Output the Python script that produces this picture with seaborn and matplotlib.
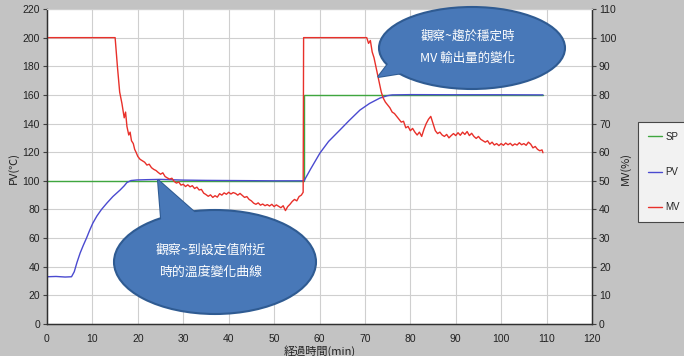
import numpy as np
import pandas as pd
import matplotlib
matplotlib.use("Agg")
import matplotlib.pyplot as plt
import seaborn as sns
from matplotlib.patches import Ellipse, Polygon
from matplotlib.lines import Line2D

# ---------------- data ----------------
sp_time = [0, 56.5, 56.5, 109.2]
sp_value = [100, 100, 160, 160]

pv_time = [0, 2, 4, 5.4, 6.0, 6.6, 7.3, 8.0, 8.7, 9.4, 10.1, 11.0, 12.0, 13.2, 14.5, 16.1, 17.0,
           17.6, 18.5, 19.8, 22, 25, 28, 30, 35, 40, 45, 50, 55, 56.6, 58.0, 60.1, 62.0, 64.5,
           66.5, 68.9, 71.0, 73.3, 75.0, 76.0, 80, 90, 100, 109.2]
pv_value = [33, 33.2, 32.8, 33, 36.5, 43, 49.6, 55, 60, 65.5, 70.5, 75.5, 80, 84.5, 89, 93.6, 96.5,
            98.8, 100.2, 100.6, 100.8, 101, 100.7, 100.5, 100.3, 100.2, 100.1, 100, 100, 100, 108, 119.4, 127.5, 135.5,
            142, 149.4, 154, 157.8, 159.5, 160, 160.2, 160.1, 160.1, 160]

mv_time = [0, 15.0, 15.5, 16.0, 16.5, 17.0, 17.3, 17.6, 18.0, 18.3, 18.6, 19.0, 19.3, 19.6, 20.0,
           20.5, 21, 21.5, 22, 22.5, 23, 23.5, 24, 24.5, 25, 25.5, 26, 26.5, 27, 27.5, 28, 28.5,
           29, 29.5, 30, 30.5, 31, 31.5, 32, 32.5, 33, 33.5, 34, 34.5, 35, 35.5, 36, 36.5, 37,
           37.5, 38, 38.5, 39, 39.5, 40, 40.5, 41, 41.5, 42, 42.5, 43, 43.5, 44, 44.5, 45, 45.5,
           46, 46.5, 47, 47.5, 48, 48.5, 49, 49.5, 50, 50.5, 51, 51.5, 52, 52.5, 53, 53.5, 54,
           54.5, 55, 55.5, 56, 56.4, 56.5, 70.4, 70.8, 71.2, 71.6, 72, 72.4, 72.8, 73.2, 73.6, 74,
           74.5, 75, 75.5, 76, 76.5, 77, 77.5, 78, 78.5, 79, 79.5, 80, 80.5, 81, 81.5, 82, 82.5,
           83, 83.5, 84, 84.5, 85, 85.5, 86, 86.5, 87, 87.5, 88, 88.5, 89, 89.5, 90, 90.5, 91,
           91.5, 92, 92.5, 93, 93.5, 94, 94.5, 95, 95.5, 96, 96.5, 97, 97.5, 98, 98.5, 99, 99.5,
           100, 100.5, 101, 101.5, 102, 102.5, 103, 103.5, 104, 104.5, 105, 105.5, 106, 106.5,
           107, 107.5, 108, 108.5, 109, 109.2]
mv_value = [100, 100, 90, 81, 77, 72, 74, 69, 66, 67, 64, 63, 61, 60, 58.5,
            57.5, 57, 56.5, 55.5, 55.8, 54.6, 54.0, 53.6, 52.9, 52.3, 52.8, 51.5, 51.0, 50.6, 50.9, 49.8, 49.2,
            49.6, 48.5, 48.8, 48.0, 48.6, 47.9, 48.3, 47.3, 47.8, 46.8, 47.0, 45.7, 45.2, 44.6, 45.1, 44.2, 44.8,
            44.3, 45.5, 45.0, 45.8, 45.3, 46.0, 45.4, 45.9, 45.6, 45.0, 45.6, 44.9, 44.2, 44.5, 43.5, 43.0, 42.2,
            41.8, 42.3, 41.5, 41.9, 41.3, 41.7, 41.2, 41.8, 41.0, 41.6, 41.1, 40.6, 41.3, 39.6, 41.0, 41.8, 42.8,
            43.5, 43.0, 44.5, 45.0, 46.0, 100, 100, 98, 99, 95, 93, 90, 87, 84, 81, 79,
            77.5, 76.5, 75.5, 74, 73.5, 72.5, 71.5, 70.5, 70.8, 68.5, 69, 67.5, 68.3, 67, 66, 67, 65.5,
            68, 70, 71.5, 72.5, 70, 67.5, 66.5, 67, 66, 65.5, 66.2, 65.0, 65.8, 66.5, 65.8, 66.8, 65.9,
            67.0, 66.2, 67.2, 65.8, 66.6, 65.5, 64.8, 65.5, 64.5, 64.0, 63.5, 64.0, 62.8, 63.5, 62.5, 63.0, 62.3,
            63.0, 62.4, 63.2, 62.6, 63.1, 62.3, 62.9, 62.5, 63.3, 62.6, 63.0, 62.4, 63.5, 62.8,
            61.5, 62.0, 61.0, 60.5, 60.8, 59.8]

x_ticks = list(range(0, 121, 10))
pv_ticks = list(range(0, 221, 20))
mv_ticks = list(range(0, 111, 10))
x_label = "経過時間(min)"
pv_label = "PV(℃)"
mv_label = "MV(%)"
note_top = "觀察~趨於穩定時\nMV 輸出量的變化"
note_bottom = "觀察~到設定值附近\n時的溫度變化曲線"

# ---------------- styling ----------------
sns.set_theme(style="white")
plt.rcParams['font.family'] = ['Liberation Sans Narrow', 'Liberation Sans', 'Noto Sans CJK JP', 'DejaVu Sans']

W, H = 684, 356
fig = plt.figure(figsize=(W / 100, H / 100), dpi=100)
fig.patch.set_facecolor('#c3c3c3')

L, R, T, B = 47, 592, 9, 324
ax = fig.add_axes([L / W, 1 - B / H, (R - L) / W, (B - T) / H])
ax.set_facecolor('white')
ax2 = ax.twinx()

sp_df = pd.DataFrame({"t": sp_time, "v": sp_value})
pv_df = pd.DataFrame({"t": pv_time, "v": pv_value})
mv_df = pd.DataFrame({"t": mv_time, "v": mv_value})

c_sp, c_pv, c_mv = '#3fa63f', '#4a4ad0', '#e8302a'
sns.lineplot(data=sp_df, x="t", y="v", ax=ax, estimator=None, sort=False, color=c_sp, lw=1.0)
sns.lineplot(data=pv_df, x="t", y="v", ax=ax, estimator=None, sort=False, color=c_pv, lw=1.0)
sns.lineplot(data=mv_df, x="t", y="v", ax=ax2, estimator=None, sort=False, color=c_mv, lw=1.0)

ax.set_xlim(0, 120)
ax.set_ylim(0, 220)
ax2.set_ylim(0, 110)
ax.set_xticks(x_ticks)
ax.set_yticks(pv_ticks)
ax2.set_yticks(mv_ticks)
ax.grid(True, color='#cfcfcf', lw=0.8)
ax.set_axisbelow(True)

tick_kw = dict(labelsize=7.5, length=3, width=0.8, color='#404040', labelcolor='#222222', pad=2)
ax.tick_params(axis='both', direction='out', **tick_kw)
ax2.tick_params(axis='y', direction='out', **tick_kw)
ax.tick_params(axis='x', pad=4)
for a in (ax, ax2):
    for s in ('left', 'bottom', 'right'):
        a.spines[s].set_color('#303030')
        a.spines[s].set_linewidth(0.9)
    a.spines['top'].set_color('#cfcfcf')
    a.spines['top'].set_linewidth(0.8)

ax.set_xlabel("")
ax.set_ylabel("")
ax2.set_ylabel("")
cjk = ['Noto Sans CJK JP', 'DejaVu Sans']
fig.text(320 / W, 1 - 351 / H, x_label, ha='center', va='center', fontsize=8, family=cjk, color='#222222')
fig.text(13 / W, 1 - 168 / H, pv_label, ha='center', va='center', rotation=90, fontsize=8, family=cjk, color='#222222')
fig.text(625 / W, 1 - 168 / H, mv_label, ha='center', va='center', rotation=90, fontsize=8, family=cjk, color='#222222')

# legend
handles = [Line2D([], [], color=c_sp, lw=1.0), Line2D([], [], color=c_pv, lw=1.0), Line2D([], [], color=c_mv, lw=1.0)]
leg = fig.legend(handles, ["SP", "PV", "MV"], loc='upper left', bbox_to_anchor=(638 / W, 1 - 122 / H),
                 fontsize=7, handlelength=1.5, handletextpad=0.3, labelspacing=2.6, borderpad=1.0,
                 frameon=True, fancybox=False, borderaxespad=0)
leg.get_frame().set_edgecolor('#222222')
leg.get_frame().set_linewidth(0.8)
leg.get_frame().set_facecolor('white')

# callout bubbles (pixel geometry converted to figure fraction)
fill_c, edge_c = '#4878b8', '#2f5b92'

def fpt(px, py):
    return (px / W, 1 - py / H)

def bubble(cx, cy, w, h, tail, text, fs):
    poly_pts = [fpt(*p) for p in tail]
    fig.add_artist(Polygon(poly_pts, closed=True, transform=fig.transFigure, facecolor=fill_c,
                           edgecolor=edge_c, lw=1.5, zorder=5))
    fig.add_artist(Ellipse(fpt(cx, cy), w / W, h / H, transform=fig.transFigure, facecolor=fill_c,
                           edgecolor=edge_c, lw=1.5, zorder=6))
    fig.add_artist(Polygon(poly_pts, closed=True, transform=fig.transFigure, facecolor=fill_c,
                           edgecolor='none', lw=0, zorder=7))
    fig.text(*fpt(cx - 4, cy - 1), text, ha='center', va='center', fontsize=fs, color='white',
             family=['Noto Sans CJK TC', 'DejaVu Sans'], linespacing=1.9, zorder=8)

bubble(472, 48, 186, 82, [(378, 77), (391, 60), (409, 72)], note_top, 9)
bubble(215, 262, 202, 104, [(158, 180), (162, 230), (200, 217)], note_bottom, 9.3)

fig.savefig("out.png", dpi=100, facecolor=fig.get_facecolor())
